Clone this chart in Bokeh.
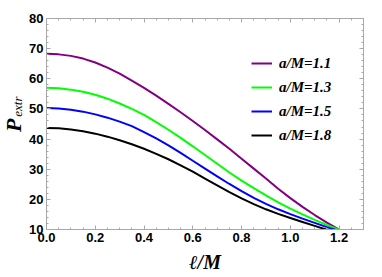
import math
from bokeh.plotting import figure
from bokeh.layouts import row
from bokeh.models import (Range1d, LinearAxis, Legend, LegendItem,
                          SingleIntervalTicker, NumeralTickFormatter)
from bokeh.core.properties import value
from bokeh.embed import file_html
from bokeh.resources import INLINE

# ---- data ----
ell = [0.0, 0.05, 0.1, 0.15, 0.2, 0.25, 0.3, 0.35, 0.4, 0.45, 0.5, 0.55, 0.6,
       0.65, 0.7, 0.75, 0.8, 0.85, 0.9, 0.95, 1.0, 1.05, 1.1, 1.15, 1.2]
p_a11 = [68.3, 68.1, 67.6, 66.7, 65.4, 63.7, 61.7, 59.4, 57.0, 54.4, 51.7, 48.9, 46.0,
         43.0, 39.9, 36.8, 33.5, 30.2, 26.9, 23.5, 20.4, 17.5, 14.8, 12.3, 10.0]
p_a13 = [57.0, 56.85, 56.4, 55.7, 54.7, 53.4, 51.8, 50.0, 48.0, 45.6, 43.1, 40.4, 37.6,
         34.7, 31.8, 28.9, 26.2, 23.7, 21.3, 19.0, 16.9, 15.0, 13.2, 11.5, 9.9]
p_a15 = [50.3, 50.15, 49.75, 49.1, 48.2, 47.1, 45.8, 44.3, 42.3, 40.2, 37.9, 35.4, 32.8,
         30.2, 27.6, 25.1, 22.7, 20.5, 18.5, 16.7, 15.1, 13.6, 12.2, 10.8, 9.5]
p_a18 = [43.7, 43.55, 43.2, 42.6, 41.8, 40.8, 39.6, 38.3, 36.8, 35.1, 33.3, 31.3, 29.2,
         26.9, 24.6, 22.4, 20.3, 18.4, 16.7, 15.2, 13.8, 12.5, 11.2, 9.9, 8.6]
series_labels = ["a/M=1.1", "a/M=1.3", "a/M=1.5", "a/M=1.8"]
series_colors = ["#800080", "#00ff00", "#0000ff", "#000000"]
x_label = "ℓ/M"
y_label_main = "P"
y_label_sub = "extr"
x_ticks_step = 0.2
y_ticks_step = 10

H = 277
LW = 26  # narrow strip that carries the y-axis title
W = 382 - LW

p = figure(width=W, height=H, output_backend="svg", toolbar_location=None,
           x_range=Range1d(0, 1.3), y_range=Range1d(10, 80),
           min_border_left=45 - LW, min_border_right=19, min_border_top=18,
           min_border_bottom=48)
p.grid.visible = False
p.outline_line_color = "#a8a8a8"
p.background_fill_color = "white"
p.border_fill_color = "white"

renderers = []
for ys, c in zip([p_a11, p_a13, p_a15, p_a18], series_colors):
    renderers.append(p.line(ell, ys, line_color=c, line_width=2))

def style_axis(ax, labels=True, minor=5, step=0.2, fmt="0.0"):
    ax.ticker = SingleIntervalTicker(interval=step, num_minor_ticks=minor)
    ax.axis_line_color = "#a8a8a8"
    ax.major_tick_line_color = "#a8a8a8"
    ax.minor_tick_line_color = "#a8a8a8"
    ax.major_tick_in = 4
    ax.major_tick_out = 0
    ax.minor_tick_in = 2
    ax.minor_tick_out = 0
    if labels:
        ax.formatter = NumeralTickFormatter(format=fmt)
        ax.major_label_text_font = "Liberation Sans"
        ax.major_label_text_font_style = "bold"
        ax.major_label_text_font_size = "13px"
        ax.major_label_text_color = "black"
        ax.major_label_standoff = 3
    else:
        ax.major_label_text_color = None
        ax.major_label_standoff = 0

style_axis(p.xaxis[0], True, 4, x_ticks_step, "0.0")
style_axis(p.yaxis[0], True, 5, y_ticks_step, "0")
p.xaxis[0].axis_label = x_label
p.xaxis[0].axis_label_text_font = "Liberation Serif"
p.xaxis[0].axis_label_text_font_style = "bold italic"
p.xaxis[0].axis_label_text_font_size = "20px"
p.xaxis[0].axis_label_text_color = "black"
p.xaxis[0].axis_label_standoff = 6

top = LinearAxis()
style_axis(top, False, 4, x_ticks_step)
p.add_layout(top, "above")
right = LinearAxis()
style_axis(right, False, 5, y_ticks_step)
p.add_layout(right, "right")

items = [LegendItem(label=l, renderers=[r]) for l, r in zip(series_labels, renderers)]
leg = Legend(items=items, location=(205, 84), padding=0, margin=0,
             spacing=4, glyph_width=21, glyph_height=20, label_standoff=7,
             border_line_color=None, background_fill_alpha=0,
             label_text_font="Liberation Serif", label_text_font_style="bold italic",
             label_text_font_size="15px", label_text_color="black")
p.add_layout(leg)

# strip holding the y-axis title "P_extr"
s = figure(width=LW, height=H, output_backend="svg", toolbar_location=None,
           x_range=Range1d(0, LW), y_range=Range1d(0, H),
           x_axis_type=None, y_axis_type=None,
           min_border_left=0, min_border_right=0, min_border_top=0, min_border_bottom=0)
s.grid.visible = False
s.outline_line_color = None
s.text(x=[12.5], y=[H - 149], text=[y_label_main], angle=math.pi / 2,
       text_font=value("Liberation Serif"), text_font_style="bold italic",
       text_font_size="22px", text_align="left", text_baseline="middle",
       text_color="black")
s.text(x=[16.5], y=[H - 129], text=[y_label_sub], angle=math.pi / 2,
       text_font=value("Liberation Serif"), text_font_style="italic",
       text_font_size="13px", text_align="left", text_baseline="middle",
       text_color="black")

layout = row(s, p, spacing=0)
open("out.html", "w").write(file_html(layout, INLINE))
